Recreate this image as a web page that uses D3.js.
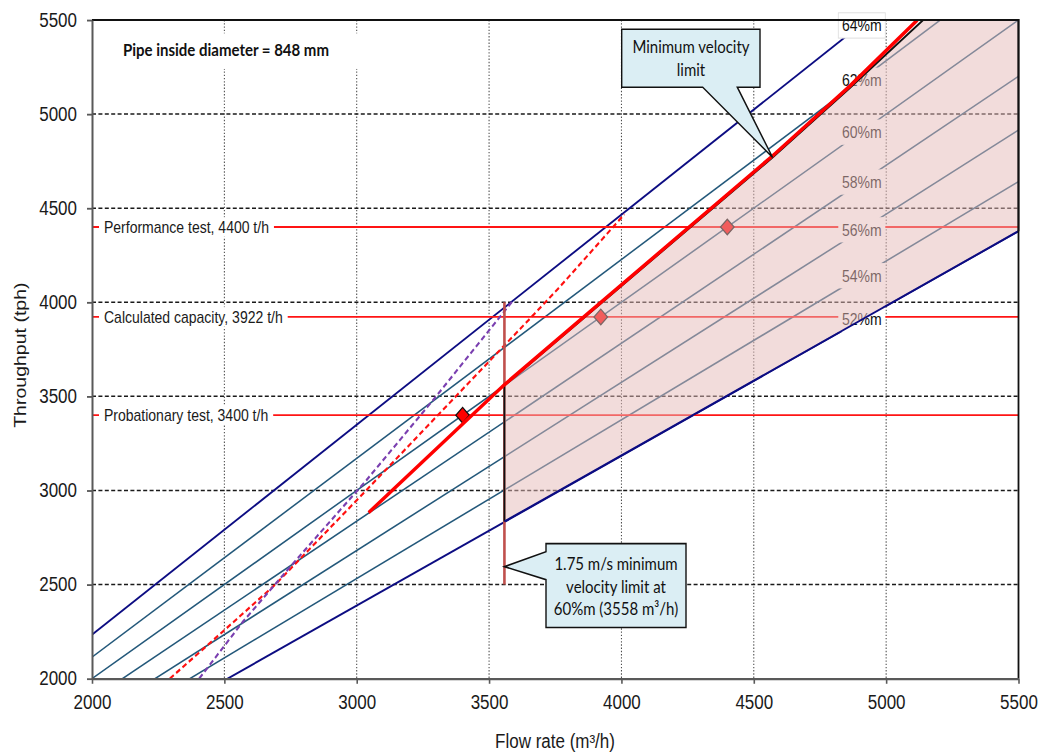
<!DOCTYPE html>
<html>
<head>
<meta charset="utf-8">
<script src="https://cdn.jsdelivr.net/npm/d3@7"></script>
<style>
  html, body { margin: 0; padding: 0; background: #fff; }
  svg { display: block; }
</style>
</head>
<body>
<svg id="chart" width="1046" height="754" viewBox="0 0 1046 656" preserveAspectRatio="none"></svg>
<script>
// ---- data -------------------------------------------------------------
const flowTicks = [2000, 2500, 3000, 3500, 4000, 4500, 5000, 5500];
const tputTicks = [2000, 2500, 3000, 3500, 4000, 4500, 5000, 5500];

// constant-concentration lines: throughput (t/h) at 2000 and 5500 m3/h
const concLabels = ["52%m", "54%m", "56%m", "58%m", "60%m", "62%m", "64%m"];
const lineT2000 = [1592, 1688, 1787, 1891, 2000, 2114, 2233];
const lineT5500 = [4378, 4641, 4915, 5201, 5500, 5812, 6140];
// label anchors along each line
const labelFlow = 4908;
const labelT = [3908, 4141, 4385, 4639, 4904, 5180, 5471];

// test throughputs
const testT = [4400, 3922, 3400];
const testNames = ["Performance test, 4400 t/h", "Calculated capacity, 3922 t/h", "Probationary test, 3400 t/h"];

// operating points
const pointQ = [3400, 3922, 4400];
const pointT = [3400, 3922, 4400];

// operating window (above minimum velocity, 52%m .. 64%m)
const windowQ = [3558, 3558, 4571, 4862, 5140, 5500, 5500];
const windowT = [2835, 3558, 4770, 5138, 5500, 5500, 4378];

// minimum velocity curve (thick red)
const trendQ = [3045, 3558, 4571, 4862, 5118];
const trendT = [2882, 3562, 4778, 5148, 5500];

// dashed curves
const redDashQ = [2294, 2495, 2691, 3005, 3653, 3766, 4011];
const redDashT = [2000, 2251, 2498, 2955, 3911, 4080, 4467];
const purpleDashQ = [2405, 2571, 2766, 3037, 3288, 3590];
const purpleDashT = [2000, 2304, 2622, 3055, 3479, 4008];

// 1.75 m/s limit at 60%m
const limitQ = 3558;
const limitSpanT = [2500, 4000];

// ---- layout -----------------------------------------------------------
const svg = d3.select("#chart");
const L = 92, R = 1018.5, T = 17.4, B = 590.4;
const x = d3.scaleLinear().domain([2000, 5500]).range([L, R]);
const y = d3.scaleLinear().domain([2000, 5500]).range([B, T]);

const ARIAL = "'Liberation Sans', Arial, sans-serif";
const CALI = "Lato, 'Open Sans', sans-serif";

svg.append("defs").append("clipPath").attr("id", "plot")
  .append("rect").attr("x", L).attr("y", T).attr("width", R - L).attr("height", B - T);

const plot = svg.append("g").attr("clip-path", "url(#plot)");
const line = d3.line().x(d => x(d[0])).y(d => y(d[1]));
const zip = (a, b) => a.map((v, i) => [v, b[i]]);
const isOuter = i => i === 0 || i === concLabels.length - 1;

// grid
plot.append("g").selectAll("line").data(flowTicks.slice(1, -1)).join("line")
  .attr("x1", d => x(d)).attr("x2", d => x(d)).attr("y1", T).attr("y2", B)
  .attr("stroke", "#404040").attr("stroke-width", 1).attr("stroke-dasharray", "1.2,1.6");
plot.append("g").selectAll("line").data(tputTicks.slice(1, -1)).join("line")
  .attr("x1", L).attr("x2", R).attr("y1", d => y(d)).attr("y2", d => y(d))
  .attr("stroke", "#1a1a1a").attr("stroke-width", 1.3).attr("stroke-dasharray", "4,2.4");

// concentration lines
plot.append("g").selectAll("path").data(concLabels).join("path")
  .attr("d", (d, i) => line([[2000, lineT2000[i]], [5500, lineT5500[i]]]))
  .attr("fill", "none")
  .attr("stroke", (d, i) => isOuter(i) ? "#0c0c82" : "#23587a")
  .attr("stroke-width", (d, i) => isOuter(i) ? 1.7 : 1.4);

// test throughput lines with labels
plot.append("g").selectAll("line").data(testT).join("line")
  .attr("x1", L).attr("x2", R).attr("y1", d => y(d)).attr("y2", d => y(d))
  .attr("stroke", "#ff1414").attr("stroke-width", 1.6);
const testLab = svg.append("g").selectAll("g").data(testT).join("g")
  .attr("transform", d => `translate(0,${y(d)})`);
testLab.append("rect")
  .attr("x", 99).attr("y", -8.5).attr("height", 17).attr("fill", "#fff");
testLab.append("text").attr("x", 104).attr("dy", "0.35em")
  .attr("font-family", ARIAL).attr("font-size", 14).attr("fill", "#1a1a1a")
  .text((d, i) => testNames[i]);
testLab.each(function () {
  const g = d3.select(this);
  const w = g.select("text").node().getComputedTextLength();
  g.select("rect").attr("width", w + 10);
});

// dashed curves
plot.append("path").attr("d", line(zip(redDashQ, redDashT)))
  .attr("fill", "none").attr("stroke", "#ff1010").attr("stroke-width", 2)
  .attr("stroke-dasharray", "5,3");
plot.append("path").attr("d", line(zip(purpleDashQ, purpleDashT)))
  .attr("fill", "none").attr("stroke", "#7a3fb0").attr("stroke-width", 2)
  .attr("stroke-dasharray", "5,3");

// 1.75 m/s limit line
plot.append("line").attr("x1", x(limitQ)).attr("x2", x(limitQ))
  .attr("y1", y(limitSpanT[0])).attr("y2", y(limitSpanT[1]))
  .attr("stroke", "#c0504d").attr("stroke-width", 2.6);

// operating points
const diamond = d3.symbol().type(d3.symbolSquare).size(92);
plot.append("g").selectAll("path").data(pointQ).join("path")
  .attr("d", diamond)
  .attr("transform", (d, i) => `translate(${x(d)},${y(pointT[i])}) rotate(45)`)
  .attr("fill", "#ff0000").attr("stroke", "#111").attr("stroke-width", 1.2);

// concentration labels
const cl = svg.append("g").selectAll("g").data(concLabels).join("g")
  .attr("transform", (d, i) => `translate(${x(labelFlow)},${y(labelT[i])})`);
cl.append("rect").attr("x", -23.5).attr("y", -11).attr("width", 47).attr("height", 22)
  .attr("fill", "#fff")
  .attr("stroke", (d, i) => i === concLabels.length - 1 ? "#dcdcdc" : "none")
  .attr("stroke-width", 0.8);
cl.append("text").attr("text-anchor", "middle").attr("dy", "0.36em")
  .attr("font-family", ARIAL).attr("font-size", 14).attr("fill", "#111")
  .text(d => d);

// operating window: fill, then its outline without the 52%m edge
const win = zip(windowQ, windowT);
svg.append("path").attr("d", line(win) + "Z")
  .attr("fill", "#e6b9b8").attr("fill-opacity", 0.5).attr("stroke", "none");
svg.append("path").attr("d", line(win))
  .attr("fill", "none").attr("stroke", "#111").attr("stroke-width", 1.8)
  .attr("stroke-linejoin", "miter");
// 52%m line forms the lower edge of the window
svg.append("path").attr("clip-path", "url(#plot)")
  .attr("d", line([[windowQ[0], windowT[0]], [5500, lineT5500[0]]]))
  .attr("fill", "none").attr("stroke", "#0c0c82").attr("stroke-width", 1.7);

// minimum velocity curve
svg.append("path").attr("d", line(zip(trendQ, trendT)))
  .attr("fill", "none").attr("stroke", "#ff0000").attr("stroke-width", 3.2)
  .attr("stroke-linecap", "butt").attr("clip-path", "url(#plot)");

// plot frame (top, right)
svg.append("path").attr("d", `M${L},${T}H${R}V${B}`)
  .attr("fill", "none").attr("stroke", "#111").attr("stroke-width", 1.8);

// axes
const xAxis = svg.append("g").attr("transform", `translate(0,${B})`)
  .call(d3.axisBottom(x).tickValues(flowTicks).tickFormat(d3.format("d"))
    .tickSize(4.5).tickSizeOuter(0).tickPadding(10));
const yAxis = svg.append("g").attr("transform", `translate(${L},0)`)
  .call(d3.axisLeft(y).tickValues(tputTicks).tickFormat(d3.format("d"))
    .tickSize(5).tickSizeOuter(0).tickPadding(10));
[xAxis, yAxis].forEach(a => {
  a.select(".domain").attr("stroke", "#595959").attr("stroke-width", 2);
  a.selectAll(".tick line").attr("stroke", "#595959").attr("stroke-width", 1.6);
  a.selectAll(".tick text").attr("font-family", ARIAL).attr("font-size", 17).attr("fill", "#1a1a1a");
});

svg.append("text").attr("x", 555).attr("y", 651).attr("text-anchor", "middle")
  .attr("font-family", ARIAL).attr("font-size", 17).attr("fill", "#1a1a1a")
  .text("Flow rate (m³/h)");
svg.append("text").attr("transform", "translate(26,309) rotate(-90)").attr("text-anchor", "middle")
  .attr("font-family", ARIAL).attr("font-size", 17).attr("fill", "#1a1a1a")
  .text("Throughput (tph)");

// pipe note
svg.append("rect").attr("x", 108).attr("y", 29).attr("width", 262).attr("height", 31).attr("fill", "#fff");
svg.append("text").attr("x", 123).attr("y", 48.5)
  .attr("font-family", CALI).attr("font-weight", "bold").attr("font-size", 15).attr("fill", "#111")
  .text("Pipe inside diameter = 848 mm");

// callouts
const calloutFill = "#dbeef4";
const tip1 = [x(4571), y(4770)];
svg.append("path")
  .attr("d", `M621.7,25.5H760V75.9H737.3L${tip1[0]},${tip1[1]}L702.7,75.9H621.7Z`)
  .attr("fill", calloutFill).attr("stroke", "#111").attr("stroke-width", 1.4);
svg.append("text").attr("x", 691).attr("text-anchor", "middle")
  .attr("font-family", CALI).attr("font-size", 15).attr("fill", "#111")
  .selectAll("tspan").data(["Minimum velocity", "limit"]).join("tspan")
  .attr("x", 691).attr("y", (d, i) => 46.5 + i * 19.2).text(d => d);

const tip2 = [x(limitQ), y(2595)];
svg.append("path")
  .attr("d", `M546,473H686V546H546V504.3L${tip2[0]},${tip2[1]}L546,480Z`)
  .attr("fill", calloutFill).attr("stroke", "#111").attr("stroke-width", 1.4);
svg.append("text").attr("text-anchor", "middle")
  .attr("font-family", CALI).attr("font-size", 15).attr("fill", "#111")
  .selectAll("tspan").data(["1.75 m/s minimum", "velocity limit at", "60%m (3558 m³/h)"]).join("tspan")
  .attr("x", 616).attr("y", (d, i) => 496 + i * 19.6).text(d => d);
</script>
</body>
</html>
